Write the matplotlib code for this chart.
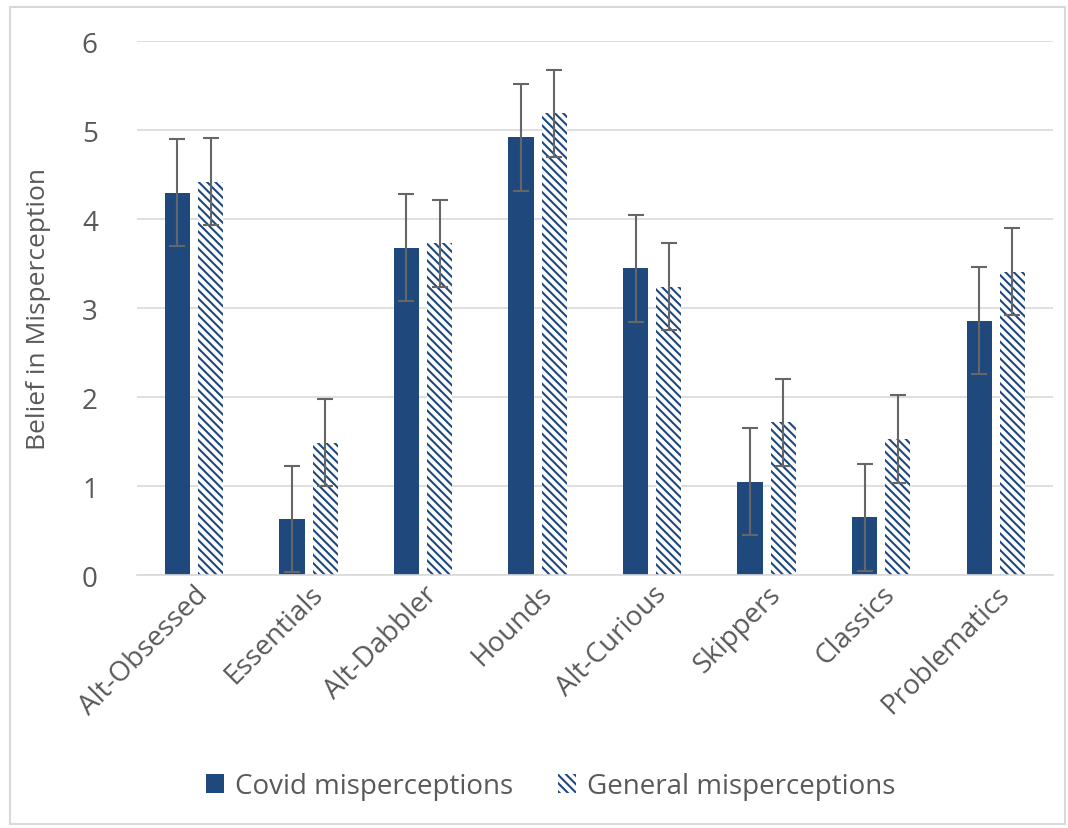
import matplotlib.pyplot as plt
import numpy as np
from matplotlib.patches import Rectangle

plt.rcParams['font.family'] = ['Open Sans', 'DejaVu Sans']
plt.rcParams['hatch.linewidth'] = 1.5

# data
groups = ['Alt-Obsessed', 'Essentials', 'Alt-Dabbler', 'Hounds',
          'Alt-Curious', 'Skippers', 'Classics', 'Problematics']
covid = [4.30, 0.63, 3.68, 4.92, 3.45, 1.05, 0.65, 2.86]
general = [4.42, 1.49, 3.73, 5.19, 3.24, 1.72, 1.53, 3.41]
covid_err = [0.6] * 8
general_err = [0.49] * 8

navy = '#1F497D'
txt = '#595959'

fig = plt.figure(figsize=(10.68, 8.29), dpi=100)
ax = fig.add_axes([0.128, 0.305, 0.858, 0.644])

x = np.arange(len(groups))
w = 0.22
off = 0.145
ax.bar(x - off, covid, w, color=navy, label='Covid misperceptions', zorder=2)
ax.bar(x + off, general, w, color='white', edgecolor=navy, linewidth=0,
       hatch='\\\\\\\\', label='General misperceptions', zorder=2)
ax.errorbar(x - off, covid, yerr=covid_err, fmt='none', ecolor='#666666',
            elinewidth=1.5, capsize=6, capthick=1.5, zorder=3)
ax.errorbar(x + off, general, yerr=general_err, fmt='none', ecolor='#666666',
            elinewidth=1.5, capsize=6, capthick=1.5, zorder=3)

ax.set_ylim(0, 6)
ax.set_xlim(-0.5, len(groups) - 0.5)
ax.set_yticks(range(7))
ax.yaxis.grid(True, color='#D9D9D9', linewidth=1.2, zorder=0)
ax.set_axisbelow(True)
for s in ['top', 'right', 'left']:
    ax.spines[s].set_visible(False)
ax.spines['bottom'].set_color('#D9D9D9')
ax.spines['bottom'].set_linewidth(1.2)
ax.tick_params(length=0, labelsize=20, labelcolor=txt)
ax.tick_params(axis='y', pad=28)
ax.set_xticks(x)
ax.set_xticklabels(groups, rotation=45, ha='right', rotation_mode='anchor')
ax.set_ylabel('Belief in Misperception', fontsize=19, color=txt, labelpad=22)

ax.legend(loc='center', bbox_to_anchor=(0.452, -0.395), ncol=2, frameon=False,
          fontsize=20, labelcolor=txt, handlelength=0.65, handleheight=0.65,
          handletextpad=0.4, columnspacing=1.6)

fig.patches.append(Rectangle((0.009, 0.005), 0.988, 0.985, transform=fig.transFigure,
                             fill=False, edgecolor='#D9D9D9', linewidth=1.5))

fig.savefig('out.png', dpi=100)
